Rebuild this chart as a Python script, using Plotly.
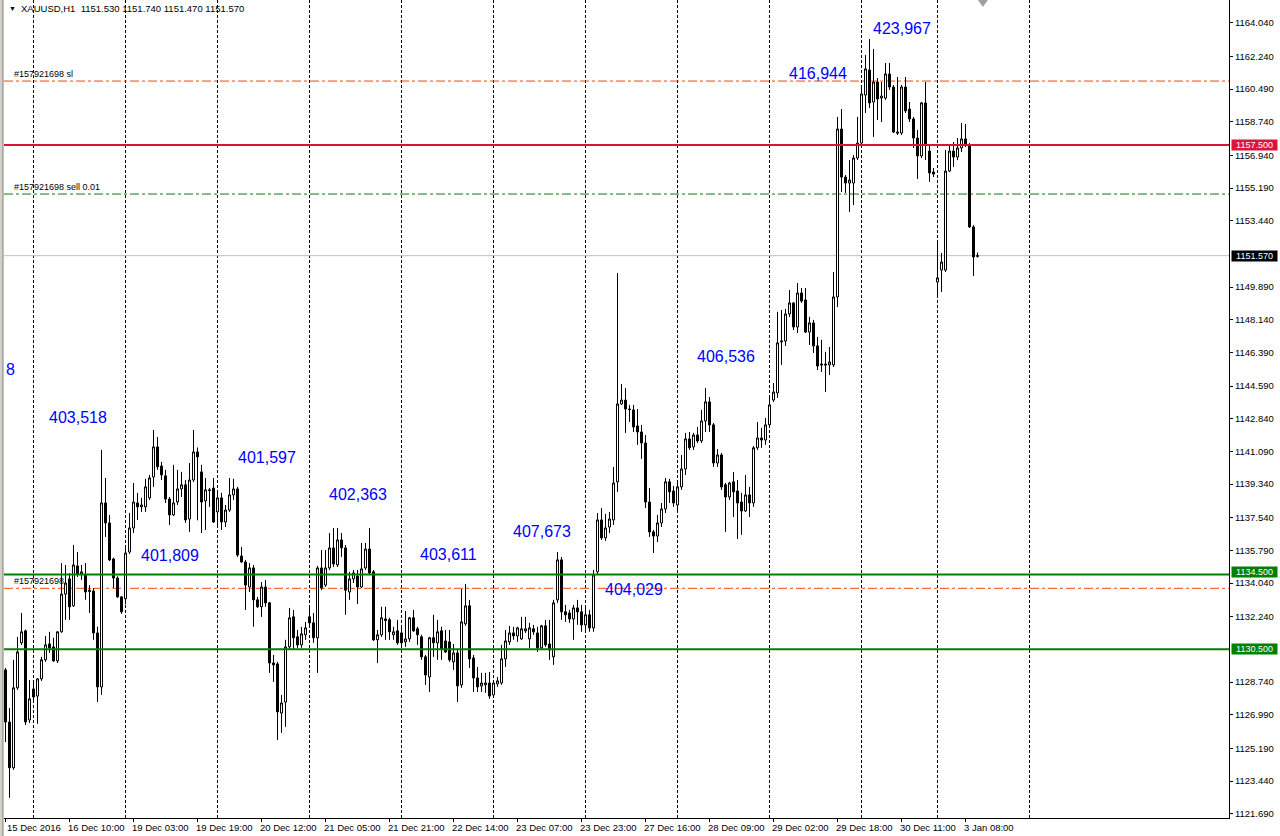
import plotly.graph_objects as go

# ---------------- data (XAUUSD H1) ----------------
opens = [
1129.39,1126.60,1124.15,1128.43,1130.84,1131.48,1126.71,1128.37,1127.99,1128.91,
1129.93,1130.78,1130.62,1129.87,1131.43,1133.45,1134.26,1132.82,1134.96,1134.53,
1134.47,1133.66,1133.61,1131.37,1128.48,1138.33,1137.26,1135.33,1134.31,1133.30,
1133.20,1135.70,1136.99,1138.33,1138.12,1138.12,1138.60,1139.72,1141.33,1140.31,
1139.78,1138.54,1137.69,1138.38,1139.08,1139.30,1137.47,1139.56,1141.06,1139.99,
1138.44,1139.03,1139.13,1137.85,1138.60,1137.31,1137.95,1138.76,1139.08,1135.49,
1135.17,1133.83,1134.85,1133.14,1132.77,1133.83,1132.98,1129.76,1129.71,1127.08,
1127.67,1130.62,1132.23,1131.16,1130.73,1131.27,1132.23,1131.91,1131.11,1134.85,
1133.93,1134.85,1135.92,1135.01,1136.35,1135.92,1133.56,1134.26,1134.42,1133.83,
1134.85,1135.86,1134.64,1131.00,1131.27,1132.12,1132.07,1131.27,1131.48,1131.37,
1130.89,1131.05,1132.18,1131.59,1131.16,1130.09,1129.01,1131.11,1130.84,1131.48,
1130.94,1130.89,1129.82,1130.30,1128.59,1131.86,1132.82,1130.03,1128.96,1128.53,
1128.59,1128.69,1128.05,1128.64,1128.69,1129.98,1130.89,1131.37,1131.21,1131.05,
1131.48,1131.05,1131.59,1131.37,1130.57,1131.75,1130.78,1130.09,1133.14,1135.28,
1132.50,1132.44,1132.12,1132.71,1132.50,1131.80,1132.34,1131.64,1134.64,1137.42,
1136.46,1137.04,1137.42,1139.46,1143.63,1143.84,1143.36,1143.31,1142.45,1142.13,
1141.54,1138.38,1136.78,1136.56,1137.26,1138.01,1139.46,1138.97,1138.22,1139.19,
1140.15,1141.76,1141.33,1141.97,1141.65,1142.72,1143.74,1142.51,1140.47,1140.90,
1139.30,1138.65,1139.46,1138.97,1138.38,1137.90,1138.76,1138.33,1141.28,1141.81,
1141.70,1142.51,1143.84,1144.22,1146.95,1147.00,1148.45,1149.04,1147.75,1149.57,
1149.20,1147.48,1147.97,1146.74,1145.77,1145.77,1145.72,1145.72,1149.36,1158.35,
1155.78,1155.46,1155.46,1156.80,1157.60,1160.17,1161.51,1159.80,1160.87,1160.01,
1160.01,1161.30,1160.60,1158.19,1158.14,1160.60,1159.42,1158.89,1157.87,1156.91,
1159.75,1157.17,1156.05,1150.16,1150.80,1150.80,1156.10,1157.17,1156.85,1157.34,
1157.82,1157.50,1153.11,1151.53]
highs = [
1129.50,1127.35,1129.93,1131.16,1132.44,1131.55,1128.85,1128.85,1128.95,1130.09,
1131.21,1131.43,1131.11,1131.45,1135.11,1135.01,1134.58,1136.08,1135.70,1135.01,
1135.11,1133.93,1133.77,1131.70,1141.17,1139.67,1137.69,1135.40,1134.40,1133.35,
1135.97,1137.79,1139.40,1138.87,1138.60,1139.62,1139.83,1142.24,1141.86,1140.53,
1140.10,1138.65,1140.37,1140.10,1139.99,1139.56,1140.47,1142.24,1141.30,1140.37,
1139.67,1139.13,1139.67,1139.03,1138.87,1138.22,1139.67,1139.62,1139.19,1135.97,
1135.28,1135.11,1135.01,1133.30,1134.10,1134.21,1133.03,1130.19,1129.82,1128.05,
1131.00,1132.71,1132.60,1131.53,1131.70,1131.96,1132.77,1132.44,1134.96,1135.81,
1135.81,1136.72,1136.99,1136.99,1136.72,1136.08,1134.64,1134.74,1134.74,1136.19,
1136.19,1136.99,1134.74,1131.53,1132.77,1132.77,1132.18,1131.70,1132.07,1131.80,
1132.55,1132.23,1132.60,1131.70,1131.27,1130.19,1131.16,1132.34,1132.07,1131.70,
1131.53,1131.53,1130.78,1130.46,1133.72,1133.99,1133.14,1130.19,1129.55,1129.23,
1129.23,1129.28,1128.85,1129.01,1130.73,1131.53,1131.75,1131.70,1131.70,1132.23,
1132.23,1131.91,1131.80,1131.70,1131.80,1132.07,1132.07,1133.14,1135.70,1135.44,
1132.87,1132.60,1132.87,1133.14,1132.87,1132.87,1132.60,1134.74,1137.79,1138.06,
1137.74,1137.85,1140.26,1150.64,1144.70,1144.49,1143.58,1143.58,1143.36,1142.51,
1141.97,1139.13,1136.88,1137.69,1138.33,1139.67,1139.62,1139.24,1139.40,1140.90,
1142.08,1142.13,1142.08,1142.40,1143.31,1144.49,1144.00,1142.61,1141.22,1141.01,
1139.40,1139.46,1139.99,1139.56,1138.87,1139.83,1139.19,1141.38,1142.67,1142.35,
1142.88,1143.95,1144.75,1148.56,1148.66,1148.72,1149.73,1149.09,1150.11,1149.84,
1149.84,1148.29,1148.13,1147.22,1147.06,1146.42,1146.68,1150.70,1159.00,1159.42,
1155.89,1156.69,1156.96,1159.00,1160.71,1162.32,1163.17,1162.64,1161.08,1160.87,
1161.89,1161.89,1160.71,1161.14,1160.71,1161.14,1159.80,1159.00,1158.30,1159.80,
1160.87,1157.50,1156.27,1152.41,1151.71,1157.23,1157.44,1157.66,1157.87,1158.67,
1158.62,1157.60,1153.21,1151.74]
lows = [
1125.53,1122.54,1124.04,1128.32,1130.73,1126.44,1126.55,1127.78,1126.50,1128.80,
1129.82,1130.30,1129.82,1129.76,1131.38,1132.07,1132.07,1132.77,1134.37,1134.21,
1133.14,1132.44,1131.00,1127.67,1128.05,1136.51,1135.22,1133.77,1133.25,1132.39,
1132.90,1135.60,1136.72,1137.42,1137.85,1137.85,1138.49,1139.19,1140.10,1139.56,
1138.33,1137.15,1137.63,1138.22,1138.65,1137.26,1136.78,1139.45,1137.40,1136.72,
1136.88,1138.12,1137.26,1137.15,1136.88,1137.04,1137.85,1138.49,1135.44,1135.11,
1132.60,1133.56,1131.70,1132.71,1132.23,1132.77,1129.23,1128.75,1125.64,1126.02,
1126.34,1130.46,1130.46,1130.57,1130.57,1131.00,1131.70,1130.84,1129.23,1133.66,
1133.83,1134.74,1134.90,1134.90,1135.44,1132.34,1133.14,1134.04,1132.92,1133.77,
1134.74,1134.47,1130.94,1129.76,1131.16,1131.00,1131.00,1131.00,1130.73,1130.62,
1130.62,1130.89,1131.43,1130.73,1129.93,1128.59,1128.21,1130.09,1129.93,1129.93,
1130.30,1129.82,1129.39,1127.67,1128.43,1131.75,1129.50,1128.21,1128.21,1128.21,
1128.16,1127.84,1127.89,1128.48,1128.59,1129.55,1130.73,1131.00,1130.89,1131.00,
1131.37,1130.57,1131.27,1130.35,1130.46,1130.62,1129.93,1129.66,1132.98,1132.07,
1131.96,1131.91,1131.00,1131.80,1131.43,1131.53,1131.43,1131.43,1134.47,1136.35,
1136.30,1136.72,1137.15,1138.92,1143.58,1142.08,1142.67,1142.13,1141.44,1140.69,
1138.06,1136.51,1135.65,1136.24,1137.04,1137.79,1138.33,1138.12,1137.79,1139.03,
1139.83,1141.17,1141.17,1141.54,1141.54,1142.13,1142.13,1140.26,1140.26,1139.03,
1136.78,1138.49,1137.58,1136.40,1136.62,1137.85,1137.58,1138.12,1141.17,1141.28,
1141.44,1142.35,1143.74,1143.95,1145.72,1146.74,1148.29,1147.59,1147.43,1149.04,
1147.43,1146.79,1146.36,1145.45,1145.34,1144.27,1145.18,1145.61,1148.82,1154.98,
1154.93,1153.91,1154.28,1156.69,1157.50,1159.21,1159.48,1157.93,1158.83,1158.73,
1159.91,1160.44,1158.14,1158.03,1158.03,1159.21,1158.73,1157.34,1155.68,1156.80,
1156.69,1155.52,1155.78,1149.36,1149.63,1150.70,1156.05,1156.32,1156.69,1157.12,
1157.39,1153.05,1150.48,1151.47]
closes = [
1126.60,1124.15,1128.43,1130.35,1131.43,1126.60,1127.84,1127.94,1128.91,1129.93,
1130.73,1130.57,1129.87,1131.43,1133.45,1134.04,1132.77,1135.01,1134.53,1134.64,
1133.56,1133.60,1131.37,1128.48,1138.33,1137.26,1135.28,1134.31,1133.30,1132.50,
1135.65,1136.99,1138.38,1138.12,1138.22,1139.19,1139.67,1141.33,1140.26,1139.83,
1138.54,1137.69,1138.33,1139.08,1139.30,1137.42,1139.56,1141.06,1140.80,1138.38,
1139.03,1139.00,1137.31,1138.60,1137.31,1137.95,1138.76,1139.08,1135.54,1135.17,
1133.93,1134.85,1133.14,1132.77,1133.83,1132.98,1129.76,1129.66,1127.14,1127.62,
1130.62,1132.18,1131.11,1130.73,1131.32,1131.64,1131.91,1131.11,1134.85,1133.77,
1134.85,1135.92,1135.06,1136.35,1135.92,1133.66,1134.26,1134.58,1133.83,1134.80,
1135.86,1134.58,1131.00,1131.27,1132.18,1132.04,1131.43,1131.43,1130.84,1130.84,
1131.05,1132.18,1131.48,1131.27,1130.09,1129.12,1131.11,1130.84,1131.43,1130.51,
1130.35,1129.93,1130.30,1128.53,1131.96,1132.82,1129.98,1128.96,1128.48,1128.69,
1128.69,1127.99,1128.69,1128.80,1129.98,1130.94,1131.37,1131.21,1131.64,1131.59,
1131.59,1131.64,1131.43,1130.57,1131.75,1130.73,1130.46,1132.98,1135.28,1132.50,
1132.34,1132.12,1132.71,1132.50,1131.80,1132.34,1131.64,1134.47,1137.42,1136.46,
1136.99,1137.47,1139.40,1143.63,1143.84,1143.36,1143.33,1142.40,1142.13,1141.54,
1138.38,1136.78,1136.56,1137.26,1138.01,1139.46,1138.92,1138.33,1139.19,1140.15,
1141.76,1141.28,1141.97,1141.65,1142.72,1143.74,1142.51,1140.47,1140.90,1139.19,
1138.65,1139.40,1138.92,1138.33,1137.90,1138.76,1138.33,1141.28,1141.81,1141.70,
1142.51,1143.58,1144.27,1146.90,1147.00,1148.45,1149.04,1147.75,1149.57,1149.14,
1147.48,1147.97,1146.74,1145.66,1145.72,1145.72,1145.88,1149.36,1158.35,1155.78,
1155.46,1155.62,1156.80,1157.60,1160.23,1161.57,1159.75,1160.87,1159.96,1160.12,
1161.30,1160.60,1158.19,1158.14,1160.60,1159.32,1158.89,1157.87,1156.91,1159.75,
1157.50,1156.00,1155.94,1150.38,1151.23,1156.10,1157.17,1156.85,1157.34,1157.82,
1157.50,1153.11,1151.50,1151.57]
bar_index = list(range(len(opens)))

date_label_bars = [0, 16, 32, 48, 64, 80, 96, 112, 128, 144, 160, 176, 192, 208, 224, 240]
date_labels = ["15 Dec 2016", "16 Dec 10:00", "19 Dec 03:00", "19 Dec 19:00", "20 Dec 12:00",
               "21 Dec 05:00", "21 Dec 21:00", "22 Dec 14:00", "23 Dec 07:00", "23 Dec 23:00",
               "27 Dec 16:00", "28 Dec 09:00", "29 Dec 02:00", "29 Dec 18:00", "30 Dec 11:00",
               "3 Jan 08:00"]
day_separator_bars = [7, 30, 53, 76, 99, 122, 145, 168, 191, 214, 233, 256]

price_ticks = [1164.04, 1162.24, 1160.49, 1158.74, 1156.94, 1155.19, 1153.44, 1149.89,
               1148.14, 1146.39, 1144.59, 1142.84, 1141.09, 1139.34, 1137.54, 1135.79,
               1134.04, 1132.24, 1128.74, 1126.99, 1125.19, 1123.44, 1121.69]

sl_price = 1160.92
tp_price = 1133.76
entry_price = 1154.87
red_level = 1157.50
green_levels = [1134.50, 1130.50]
last_price = 1151.57
header_text = "XAUUSD,H1  1151.530 1151.740 1151.470 1151.570"

note_texts = ["8", "403,518", "401,809", "401,597", "402,363", "403,611", "407,673",
              "404,029", "406,536", "416,944", "423,967"]
note_bars = [1.25, 18, 41, 65.25, 88, 110.75, 134, 157, 180, 203, 224]
note_prices = [1145.45, 1142.88, 1135.49, 1140.79, 1138.76, 1135.55, 1136.78,
               1133.67, 1146.15, 1161.35, 1163.71]

Y_RANGE = [1121.46, 1165.26]
X_RANGE = [-0.375, 305.875]
FONT = "Liberation Sans, Arial, sans-serif"

fig = go.Figure()
fig.add_trace(go.Candlestick(
    x=bar_index, open=opens, high=highs, low=lows, close=closes,
    increasing=dict(line=dict(color="black", width=1), fillcolor="white"),
    decreasing=dict(line=dict(color="black", width=1), fillcolor="black"),
    whiskerwidth=0, hoverinfo="skip", showlegend=False))

shapes = []
for b in day_separator_bars:
    shapes.append(dict(type="line", xref="x", yref="paper", x0=b, x1=b, y0=0, y1=1,
                       line=dict(color="black", width=1, dash="3px,2px"), layer="below"))
dashdot = "9px,3px,3px,3px"
shapes.append(dict(type="line", xref="paper", yref="y", x0=0, x1=1, y0=sl_price, y1=sl_price,
                   line=dict(color="#FF4500", width=1, dash=dashdot), layer="below"))
shapes.append(dict(type="line", xref="paper", yref="y", x0=0, x1=1, y0=tp_price, y1=tp_price,
                   line=dict(color="#FF4500", width=1, dash=dashdot), layer="below"))
shapes.append(dict(type="line", xref="paper", yref="y", x0=0, x1=1, y0=entry_price, y1=entry_price,
                   line=dict(color="#008000", width=1, dash=dashdot), layer="below"))
shapes.append(dict(type="line", xref="paper", yref="y", x0=0, x1=1, y0=last_price, y1=last_price,
                   line=dict(color="#C0C0C0", width=1), layer="below"))
shapes.append(dict(type="line", xref="paper", yref="y", x0=0, x1=1, y0=red_level, y1=red_level,
                   line=dict(color="#DC143C", width=2), layer="above"))
for g in green_levels:
    shapes.append(dict(type="line", xref="paper", yref="y", x0=0, x1=1, y0=g, y1=g,
                       line=dict(color="#008000", width=2), layer="above"))
# left window frame
shapes.append(dict(type="rect", xref="paper", yref="paper", x0=-4/1225, x1=-1/1225, y0=-0.03, y1=1,
                   fillcolor="#D4D0C8", line=dict(width=0), layer="above"))
shapes.append(dict(type="line", xref="paper", yref="paper", x0=-1/1225, x1=-1/1225, y0=-0.03, y1=1,
                   line=dict(color="#808080", width=1), layer="above"))
# chart-shift marker (small grey triangle at the top edge)
shapes.append(dict(type="path", xref="x", yref="paper",
                   path="M 243.1,1 L 245.6,1 L 244.35,0.9915 Z",
                   fillcolor="#A0A0A0", line=dict(width=0), layer="above"))

ann = []
ann.append(dict(x=1.75, y=1, xref="x", yref="paper", text="▼", showarrow=False,
                xanchor="center", yanchor="top", yshift=-3, font=dict(size=7, color="black", family=FONT)))
ann.append(dict(x=3.75, y=1, xref="x", yref="paper", text=header_text, showarrow=False,
                xanchor="left", yanchor="top", xshift=-2, yshift=-1,
                font=dict(size=9.5, color="black", family=FONT)))
# order labels
for txt, p in [("#157921698 sl", sl_price), ("#157921698 sell 0.01", entry_price),
               ("#157921698", tp_price)]:
    ann.append(dict(x=1.5, y=p, xref="x", yref="y", text=txt, showarrow=False,
                    xanchor="left", yanchor="bottom", font=dict(size=9, color="black", family=FONT)))
# blue notes
for t, bx, py in zip(note_texts, note_bars, note_prices):
    ann.append(dict(x=bx, y=py, xref="x", yref="y", text=t, showarrow=False,
                    xanchor="center", yanchor="middle", font=dict(size=16, color="#0000FF", family=FONT)))
# date labels
for k, (b, t) in enumerate(zip(date_label_bars, date_labels)):
    ann.append(dict(x=b, y=0, xref="x", yref="paper", text=t, showarrow=False,
                    xanchor="left", yanchor="top", xshift=(-0.5 if k == 0 else -3.5), yshift=-2,
                    font=dict(size=9.5, color="black", family=FONT)))
# price boxes on the right axis
for p, bg, ys in [(red_level, "#DC143C", 0), (last_price, "black", 0),
                  (green_levels[0], "#008000", 2), (green_levels[1], "#008000", 0)]:
    ann.append(dict(x=1, y=p, xref="paper", yref="y", text=f"{p:.3f}", showarrow=False,
                    xanchor="left", yanchor="middle", xshift=2, yshift=ys, bgcolor=bg, borderpad=0,
                    width=45, height=10, align="center",
                    font=dict(size=9, color="white", family=FONT)))

fig.update_layout(
    width=1280, height=836,
    margin=dict(l=4, r=51, t=0, b=18),
    paper_bgcolor="white", plot_bgcolor="white",
    showlegend=False,
    boxgap=0.5, boxgroupgap=0,
    shapes=shapes, annotations=ann,
    xaxis=dict(range=X_RANGE, rangeslider=dict(visible=False), showgrid=False, zeroline=False,
               showline=True, linecolor="black", linewidth=1,
               tickmode="array", tickvals=date_label_bars, ticks="outside", ticklen=3,
               tickcolor="black", showticklabels=False),
    yaxis=dict(range=Y_RANGE, side="right", showgrid=False, zeroline=False,
               showline=True, linecolor="black", linewidth=1,
               tickmode="array", tickvals=price_ticks, ticktext=[f"{v:.3f}" for v in price_ticks],
               ticks="outside", ticklen=3, tickcolor="black",
               tickfont=dict(size=9.5, color="black", family=FONT)),
)

fig.write_html("out.html")
